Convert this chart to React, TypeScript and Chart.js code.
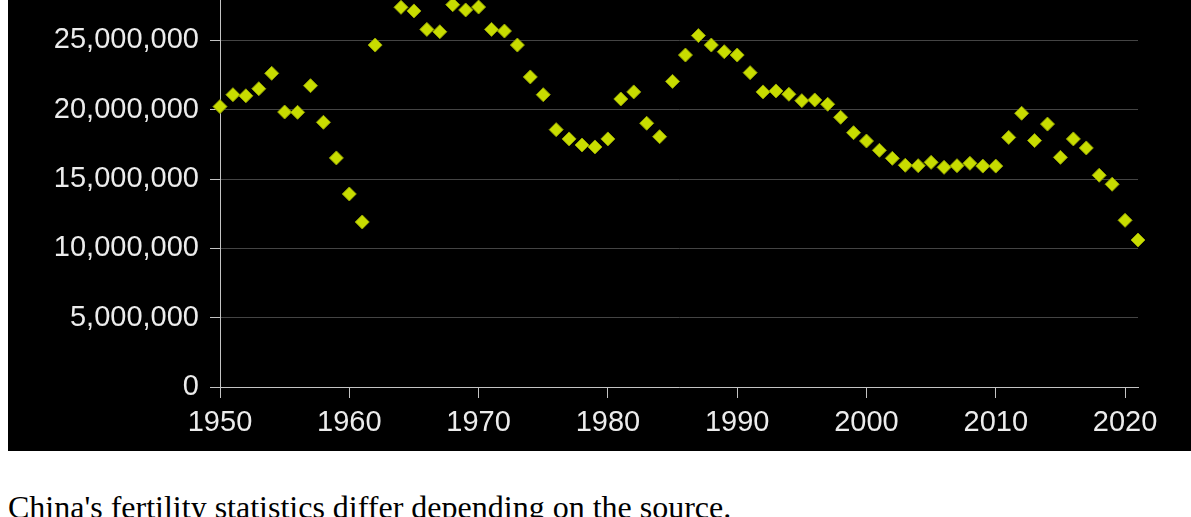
import React, { useEffect, useRef } from "react";
import { Chart, registerables } from "chart.js";

Chart.register(...registerables);

const years: number[] = [
  1950, 1951, 1952, 1953, 1954, 1955, 1956, 1957, 1958, 1959,
  1960, 1961, 1962, 1963, 1964, 1965, 1966, 1967, 1968, 1969,
  1970, 1971, 1972, 1973, 1974, 1975, 1976, 1977, 1978, 1979,
  1980, 1981, 1982, 1983, 1984, 1985, 1986, 1987, 1988, 1989,
  1990, 1991, 1992, 1993, 1994, 1995, 1996, 1997, 1998, 1999,
  2000, 2001, 2002, 2003, 2004, 2005, 2006, 2007, 2008, 2009,
  2010, 2011, 2012, 2013, 2014, 2015, 2016, 2017, 2018, 2019,
  2020, 2021,
];

const births: number[] = [
  20220000, 21080000, 21000000, 21510000, 22620000, 19830000, 19810000, 21730000, 19090000, 16520000,
  13920000, 11900000, 24660000, 29600000, 27380000, 27120000, 25790000, 25620000, 27570000, 27190000,
  27400000, 25790000, 25670000, 24660000, 22360000, 21080000, 18560000, 17890000, 17450000, 17310000,
  17890000, 20770000, 21280000, 19020000, 18050000, 22040000, 23940000, 25340000, 24660000, 24180000,
  23940000, 22670000, 21280000, 21350000, 21110000, 20650000, 20700000, 20390000, 19450000, 18340000,
  17740000, 17070000, 16490000, 15990000, 15960000, 16200000, 15840000, 15960000, 16130000, 15930000,
  15930000, 18000000, 19740000, 17770000, 18960000, 16560000, 17890000, 17240000, 15270000, 14620000,
  12020000, 10600000,
];

const xTickValues: number[] = [1950, 1960, 1970, 1980, 1990, 2000, 2010, 2020];
const yTickValues: number[] = [0, 5000000, 10000000, 15000000, 20000000, 25000000, 30000000];

const caption = "China's fertility statistics differ depending on the source.";

const labelFont = { family: "'Liberation Sans', Arial, sans-serif", size: 29 };

export default function App() {
  const canvasRef = useRef<HTMLCanvasElement | null>(null);

  useEffect(() => {
    const canvas = canvasRef.current;
    if (!canvas) return;
    const chart = new Chart(canvas, {
      type: "scatter",
      data: {
        datasets: [
          {
            label: "Births",
            data: years.map((y, i) => ({ x: y, y: births[i] })),
            pointStyle: "rectRot",
            pointRadius: 7,
            pointHoverRadius: 7,
            backgroundColor: "rgb(200,220,0)",
            borderColor: "rgb(150,165,0)",
            pointBorderWidth: 1,
            showLine: false,
            clip: false as any,
          },
        ],
      },
      options: {
        responsive: false,
        animation: false,
        events: [],
        layout: { padding: { top: 31, right: 53, bottom: 0, left: 0 } },
        plugins: {
          legend: { display: false },
          tooltip: { enabled: false },
          title: { display: false },
        },
        scales: {
          x: {
            type: "linear",
            min: 1950,
            max: 2021,
            afterBuildTicks: (scale: any) => {
              scale.ticks = xTickValues.map((v) => ({ value: v }));
            },
            afterFit: (scale: any) => {
              scale.height = 64;
            },
            grid: {
              drawOnChartArea: false,
              drawTicks: true,
              tickLength: 11,
              tickColor: "#c4c4c4",
              tickWidth: 1,
            },
            border: { display: true, color: "#c4c4c4", width: 1 },
            ticks: {
              color: "#ececec",
              font: labelFont,
              padding: 8,
              maxRotation: 0,
              autoSkip: false,
              callback: (v: any) => String(v),
            },
          },
          y: {
            type: "linear",
            min: 0,
            max: 30000000,
            afterBuildTicks: (scale: any) => {
              scale.ticks = yTickValues.map((v) => ({ value: v }));
            },
            afterFit: (scale: any) => {
              scale.width = 212;
            },
            grid: {
              color: "#444444",
              lineWidth: 1,
              drawTicks: true,
              tickLength: 10,
              tickColor: "#c4c4c4",
              tickWidth: 1,
            },
            border: { display: true, color: "#c4c4c4", width: 1 },
            ticks: {
              color: "#ececec",
              font: labelFont,
              padding: 11,
              autoSkip: false,
              callback: (v: any) => Number(v).toLocaleString("en-US"),
            },
          },
        },
      },
    });
    return () => chart.destroy();
  }, []);

  return (
    <>
      <div
        style={{
          position: "absolute",
          left: 8,
          top: 0,
          width: 1183,
          height: 451,
          background: "#000",
          overflow: "hidden",
        }}
      >
        <canvas
          ref={canvasRef}
          width={1183}
          height={511}
          style={{ position: "absolute", left: 0, top: -60, display: "block" }}
        />
      </div>
      <div
        style={{
          position: "absolute",
          left: 8,
          top: 489,
          margin: 0,
          fontFamily: "'Liberation Serif', 'Times New Roman', serif",
          fontSize: 32,
          color: "#000",
          whiteSpace: "nowrap",
        }}
      >
        {caption}
      </div>
    </>
  );
}
